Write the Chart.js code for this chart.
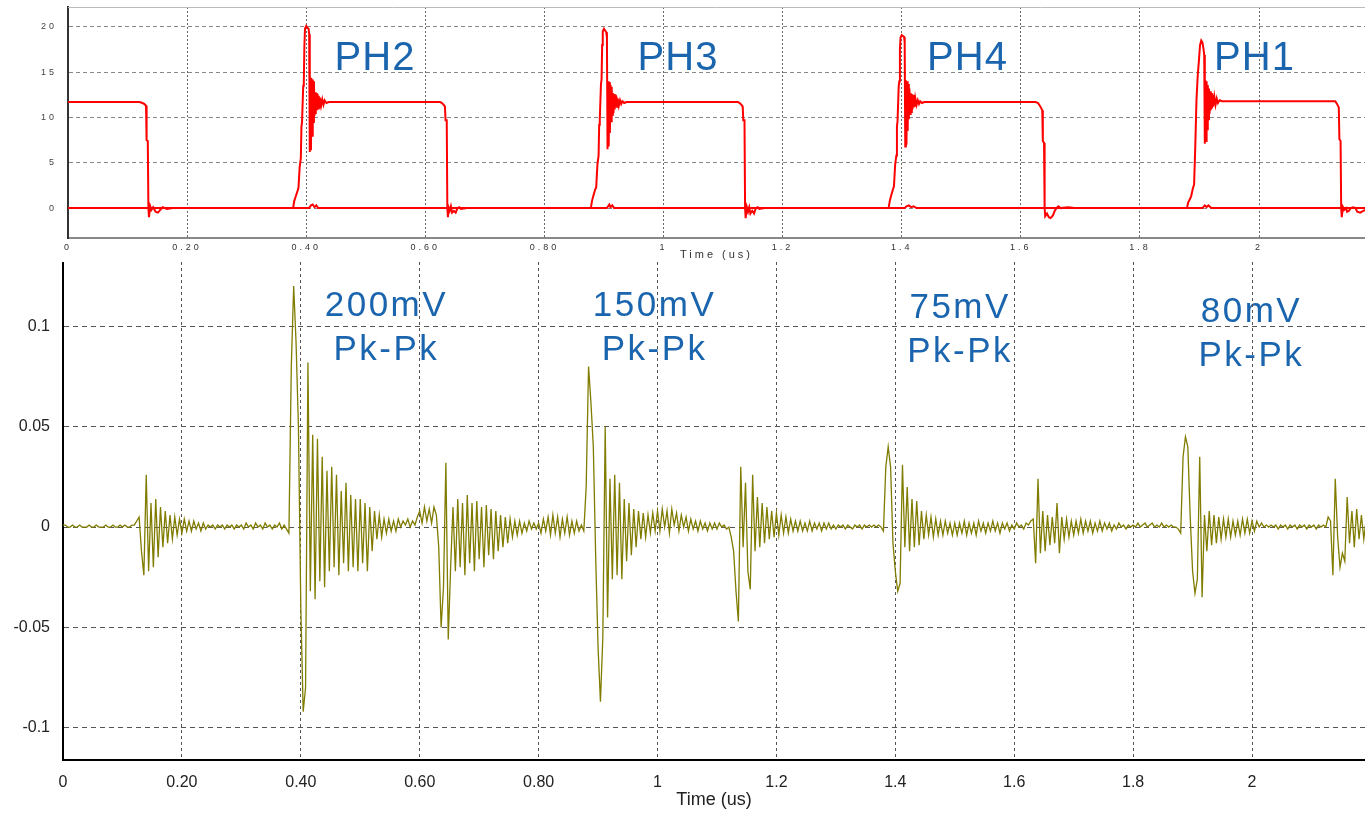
<!DOCTYPE html>
<html>
<head>
<meta charset="utf-8">
<title>Phase switching and output noise</title>
<script src="https://cdn.jsdelivr.net/npm/chart.js@4.4.1/dist/chart.umd.min.js"></script>
<style>
  html, body { margin: 0; padding: 0; background: #fff; }
  #wrap { position: relative; width: 1365px; height: 814px; overflow: hidden; }
  canvas { position: absolute; left: 0; }
  #phaseChart { top: 0; }
  #noiseChart { top: 262px; }
</style>
</head>
<body>
<div id="wrap">
  <canvas id="phaseChart" width="1365" height="262"></canvas>
  <canvas id="noiseChart" width="1365" height="552"></canvas>
</div>
<script>
// ---- tick values / labels ----
const xTickValues = [0, 0.2, 0.4, 0.6, 0.8, 1, 1.2, 1.4, 1.6, 1.8, 2];
const xTickLabels = ['0', '0.20', '0.40', '0.60', '0.80', '1', '1.2', '1.4', '1.6', '1.8', '2'];
const phaseYTicks = [0, 5, 10, 15, 20];
const phaseYLabels = ['0', '5', '10', '15', '20'];
const noiseYTicks = [-0.1, -0.05, 0, 0.05, 0.1];
const noiseYLabels = ['-0.1', '-0.05', '0', '0.05', '0.1'];

// ---- top: switch node, [time us, volts] ----
const swStart = [[0,11.7],[0.120,11.7],[0.125,11.6],[0.128,11.5],[0.131,11.3],[0.132,7.5],[0.134,7.4],[0.135,0],[0.136,-1.0],[0.138,0.2],[0.140,-0.2],[0.143,0.1],[0.147,-0.4],[0.151,-0.5],[0.155,-0.2],[0.159,0.1],[0.166,-0.1],[0.176,0]];
const swPH2 = [[0.378,0],[0.380,0.8],[0.382,1.2],[0.385,1.8],[0.387,2.2],[0.389,4.5],[0.391,5.5],[0.392,9.0],[0.393,9.5],[0.395,13.5],[0.396,14.0],[0.397,18.0],[0.398,19.8],[0.400,20.1],[0.402,19.9],[0.404,19.8],[0.405,19.2],[0.406,6.2],[0.407,14.4],[0.408,6.4],[0.409,14.3],[0.410,8.0],[0.411,14.2],[0.412,9.5],[0.413,14.0],[0.414,10.2],[0.415,12.8],[0.416,10.4],[0.417,12.7],[0.418,10.8],[0.419,12.6],[0.420,11.0],[0.421,12.4],[0.422,11.1],[0.423,12.2],[0.425,11.3],[0.427,12.0],[0.429,11.4],[0.431,11.9],[0.434,11.6],[0.438,11.7],[0.625,11.7],[0.628,11.6],[0.631,11.4],[0.633,11.2],[0.634,9.7],[0.636,9.7],[0.637,0],[0.638,-1.0],[0.639,0.1],[0.641,-0.3],[0.643,0.2],[0.645,-0.5],[0.648,-0.3],[0.651,-0.5],[0.654,0],[0.657,0.1],[0.660,-0.1],[0.670,0]];
const swPH3 = [[0.878,0],[0.880,0.8],[0.882,1.3],[0.885,2.0],[0.887,2.3],[0.889,4.8],[0.891,5.8],[0.892,9.2],[0.893,9.8],[0.895,13.7],[0.896,14.2],[0.897,18.0],[0.898,19.5],[0.900,19.8],[0.902,19.6],[0.904,19.4],[0.905,18.8],[0.906,6.5],[0.907,14.0],[0.908,6.8],[0.909,13.9],[0.910,8.3],[0.911,13.6],[0.912,9.6],[0.913,13.4],[0.914,10.3],[0.915,12.7],[0.916,10.5],[0.917,12.6],[0.918,10.9],[0.919,12.5],[0.920,11.1],[0.921,12.3],[0.922,11.2],[0.923,12.1],[0.925,11.3],[0.927,11.9],[0.929,11.5],[0.931,11.8],[0.934,11.6],[0.938,11.7],[1.125,11.7],[1.128,11.6],[1.131,11.4],[1.133,11.2],[1.134,9.7],[1.136,9.7],[1.137,0],[1.138,-1.1],[1.140,0.1],[1.142,-0.4],[1.144,0.1],[1.146,-0.6],[1.149,-0.3],[1.152,-0.6],[1.155,0],[1.158,0.1],[1.161,-0.1],[1.170,0]];
const swPH4 = [[1.378,0],[1.380,0.8],[1.382,1.3],[1.385,2.0],[1.387,2.4],[1.389,4.8],[1.391,5.8],[1.392,9.0],[1.393,9.6],[1.395,13.5],[1.396,14.0],[1.397,17.5],[1.398,18.8],[1.400,19.1],[1.402,19.0],[1.404,18.9],[1.405,18.3],[1.406,6.8],[1.407,14.1],[1.408,7.0],[1.409,14.0],[1.410,8.5],[1.411,13.7],[1.412,9.8],[1.413,13.2],[1.414,10.4],[1.415,12.7],[1.416,10.6],[1.417,12.6],[1.418,10.9],[1.419,12.5],[1.420,11.1],[1.421,12.3],[1.422,11.2],[1.423,12.1],[1.425,11.4],[1.427,11.9],[1.429,11.5],[1.431,11.8],[1.434,11.6],[1.438,11.7],[1.625,11.7],[1.629,11.6],[1.633,11.2],[1.636,10.8],[1.637,7.4],[1.639,7.2],[1.640,0],[1.641,-0.9],[1.644,-0.6],[1.647,-1.0],[1.650,-1.1],[1.654,-0.8],[1.657,-0.3],[1.660,0],[1.663,0.2],[1.667,0],[1.680,0.1],[1.690,0]];
const swPH1 = [[1.879,0],[1.881,0.6],[1.884,1.0],[1.886,1.3],[1.889,2.2],[1.891,2.6],[1.893,6.8],[1.895,11.9],[1.897,14.5],[1.899,16.2],[1.901,18.0],[1.903,18.5],[1.905,18.3],[1.907,17.5],[1.908,16.9],[1.909,7.1],[1.910,14.1],[1.911,7.4],[1.912,14.0],[1.913,8.7],[1.914,13.6],[1.915,9.8],[1.916,13.2],[1.917,10.4],[1.918,12.9],[1.919,10.8],[1.920,12.7],[1.921,11.0],[1.922,12.5],[1.923,11.2],[1.925,12.3],[1.927,11.4],[1.929,12.1],[1.931,11.6],[1.934,11.9],[1.938,11.8],[2.128,11.8],[2.131,11.5],[2.134,11.1],[2.135,7.6],[2.137,7.4],[2.138,0],[2.139,-1.0],[2.141,0.1],[2.143,-0.2],[2.146,0],[2.148,-0.4],[2.151,-0.3],[2.154,0],[2.158,0.1],[2.162,0],[2.165,-0.4],[2.170,-0.5],[2.175,-0.3],[2.182,-0.1],[2.190,0]];
// second red trace that sits on 0 V
const lowTrace = [[0,0],[0.405,0],[0.408,0.3],[0.411,0.4],[0.414,0.1],[0.417,0.3],[0.420,0],[0.905,0],[0.907,0.2],[0.909,0.4],[0.911,0.1],[0.914,0.3],[0.917,0],[1.405,0],[1.408,0.2],[1.412,0.3],[1.416,0.1],[1.420,0.2],[1.425,0],[1.905,0],[1.909,0.3],[1.912,0.1],[1.915,0.3],[1.920,0],[2.190,0]];

// ---- bottom: output noise in mV, one sample every 4 ns ----
const NOISE_STEP = 0.004;
const noiseMv = [
  1,1,0,0,1,0,0,1,0,0,0,1,0,0,1,0,0,0,1,0,0,1,0,0,1,
  0,1,0,0,1,1,3,5,-12,-24,26,-22,12,-20,14,-15,10,-10,8,-8,6,-6,5,-4,4,
  -3,4,-2,3,-2,3,-1,2,-2,2,-1,1,0,1,-1,1,0,1,-1,1,0,1,-1,1,0,
  1,-1,2,0,1,-1,2,0,1,-1,2,0,1,-1,1,0,2,-1,1,-1,-3,80,120,92,50,
  -40,-92,-80,82,-32,46,-36,44,-27,35,-30,28,-22,30,-20,26,-24,18,-18,22,-22,16,-20,14,-22,
  14,-18,12,-22,10,-12,8,-6,6,-5,4,-3,4,-2,3,-2,4,0,3,1,4,0,3,1,5,
  8,2,10,3,9,2,10,6,-10,-50,-30,32,-56,-20,10,-22,14,-20,12,-24,16,-18,12,-22,13,
  -16,10,-20,11,-14,9,-16,8,-12,6,-10,5,-8,4,-5,3,-4,3,-3,2,-2,3,-1,2,-1,
  2,-3,4,-2,5,-4,6,-3,5,-5,4,-3,5,-4,3,-3,3,-2,1,-2,20,80,62,40,-15,
  -60,-87,-55,50,-45,24,-26,26,-24,22,-26,14,-17,12,-14,9,-10,8,-6,7,-5,6,-3,7,-2,
  8,-2,9,0,8,-3,9,1,7,-2,6,0,5,-2,4,-1,3,-2,3,-1,2,-2,2,-1,2,
  -1,2,0,1,-1,0,-5,-12,-32,-47,30,-10,22,-22,-31,26,-12,15,-10,12,-8,10,-6,8,-5,
  7,-4,6,-3,5,-3,4,-2,3,-2,3,-2,2,-2,3,-2,2,-1,2,-2,2,-1,2,-1,1,
  -1,1,0,1,-1,1,0,-1,1,0,1,-1,1,0,1,0,1,0,1,0,-2,30,40,30,-8,
  -22,-32,-28,31,-10,20,-12,14,-10,13,-9,8,-6,6,-4,5,-5,4,-4,3,-4,3,-3,2,-4,
  2,-4,2,-3,3,-4,2,-3,2,-4,3,-2,2,-3,2,-2,3,-2,2,-3,2,-1,2,-2,1,
  -1,2,0,1,-1,2,1,3,4,-18,24,-13,8,-12,6,-9,5,-8,12,-13,5,-6,4,-5,3,
  -4,3,-3,4,-3,3,-2,3,-3,2,-2,3,-2,2,-1,2,-2,1,-1,2,0,1,-1,1,0,
  1,0,2,0,1,2,0,1,2,0,1,0,2,0,1,0,1,0,0,-1,-3,35,45,40,5,
  -22,-33,-26,35,-35,6,-12,8,-9,6,-8,5,-6,4,-5,4,-5,3,-4,3,-4,4,-3,4,-3,
  3,-2,3,0,2,0,1,0,1,0,1,-1,1,0,1,-1,1,0,1,-1,1,0,1,-1,1,
  0,1,-1,1,0,1,0,5,3,-24,24,-5,-20,-13,-17,15,-8,8,-10,9,-6,6,-6,4,-3
];

// ---- annotation texts ----
const phaseNames = ['PH2', 'PH3', 'PH4', 'PH1'];
const ripple = ['200mV', '150mV', '75mV', '80mV'];

const FONT = "'Liberation Sans', Arial, sans-serif";
const NOTE_BLUE = '#1a65ae';

function toPoints(pairs) {
  return pairs.map(p => ({ x: p[0], y: p[1] }));
}

function fixedTicks(values) {
  return scale => { scale.ticks = values.map(v => ({ value: v })); };
}

// pin the plot box: no extra room for overhanging tick labels
function fixWidth(w) {
  return s => { s.width = w; s.paddingTop = 0; s.paddingBottom = 0; };
}
function fixHeight(h) {
  return s => { s.height = h; s.paddingLeft = 0; s.paddingRight = 0; };
}

// text anchors in data units (time us, value)
const phaseAnchors = [[0.5155, 15.25], [1.0244, 15.25], [1.5105, 15.25], [1.9924, 15.25]];
const rippleAnchors = [[0.544, 0.105], [0.995, 0.105], [1.509, 0.104], [1.999, 0.102]];

const phaseNotes = {
  id: 'phaseNotes',
  beforeDraw(chart) {
    const { ctx, scales: { x, y } } = chart;
    ctx.save();
    ctx.fillStyle = NOTE_BLUE;
    ctx.font = '40px ' + FONT;
    ctx.letterSpacing = '1px';
    ctx.textAlign = 'center';
    ctx.textBaseline = 'alphabetic';
    phaseNames.forEach((name, i) => {
      ctx.fillText(name, x.getPixelForValue(phaseAnchors[i][0]), y.getPixelForValue(phaseAnchors[i][1]));
    });
    ctx.restore();
    // the scope software draws its small labels widely spaced
    ctx.letterSpacing = '3px';
  }
};

const topFrame = {
  id: 'topFrame',
  afterDatasetsDraw(chart) {
    const { ctx, chartArea } = chart;
    ctx.save();
    ctx.strokeStyle = '#bbbbbb';
    ctx.lineWidth = 1;
    ctx.beginPath();
    ctx.moveTo(chartArea.left, chartArea.top + 0.5);
    ctx.lineTo(chartArea.right, chartArea.top + 0.5);
    ctx.stroke();
    ctx.restore();
  }
};

const rippleNotes = {
  id: 'rippleNotes',
  beforeDraw(chart) {
    const { ctx, scales: { x, y } } = chart;
    ctx.save();
    ctx.fillStyle = NOTE_BLUE;
    ctx.font = '35px ' + FONT;
    ctx.letterSpacing = '2.5px';
    ctx.textAlign = 'center';
    ctx.textBaseline = 'alphabetic';
    ripple.forEach((txt, i) => {
      const px = x.getPixelForValue(rippleAnchors[i][0]);
      const py = y.getPixelForValue(rippleAnchors[i][1]);
      ctx.fillText(txt, px, py);
      ctx.fillText('Pk-Pk', px, py + 44);
    });
    ctx.restore();
  }
};

const common = {
  responsive: false,
  maintainAspectRatio: false,
  animation: false,
  devicePixelRatio: 1,
  events: [],
  elements: { point: { radius: 0 }, line: { tension: 0 } },
  plugins: { legend: { display: false }, tooltip: { enabled: false } }
};

new Chart(document.getElementById('phaseChart'), {
  type: 'line',
  data: {
    datasets: [
      { data: toPoints(lowTrace), borderColor: '#ff0000', borderWidth: 2 },
      { data: toPoints([...swStart, ...swPH2, ...swPH3, ...swPH4, ...swPH1]), borderColor: '#ff0000', borderWidth: 2 }
    ]
  },
  options: {
    ...common,
    layout: { padding: { top: 7, right: 0, left: 0, bottom: 0 } },
    scales: {
      x: {
        type: 'linear', min: 0, max: 2.178,
        afterBuildTicks: fixedTicks(xTickValues),
        afterFit: fixHeight(24),
        grid: { color: '#666', lineWidth: 1, drawTicks: false },
        border: { display: true, color: '#888', width: 2, dash: [2, 2] },
        ticks: {
          autoSkip: false, maxRotation: 0, padding: 4, color: '#333',
          font: { family: FONT, size: 9 },
          callback: (v, i) => xTickLabels[i]
        },
        title: { display: true, text: 'Time (us)', color: '#333', font: { family: FONT, size: 11 }, padding: 0 }
      },
      y: {
        type: 'linear', min: -3.3, max: 22.2,
        afterBuildTicks: fixedTicks(phaseYTicks),
        afterFit: fixWidth(68),
        grid: { color: '#888', lineWidth: 1, drawTicks: false },
        border: { display: true, color: '#333', width: 2, dash: [4, 3] },
        ticks: {
          padding: 11, color: '#444',
          font: { family: FONT, size: 9 },
          callback: (v, i) => phaseYLabels[i]
        }
      }
    }
  },
  plugins: [phaseNotes, topFrame]
});

new Chart(document.getElementById('noiseChart'), {
  type: 'line',
  data: {
    datasets: [{
      data: noiseMv.map((mv, i) => ({ x: +(i * NOISE_STEP).toFixed(3), y: mv / 1000 })),
      borderColor: 'rgb(128,124,0)',
      borderWidth: 1.3
    }]
  },
  options: {
    ...common,
    layout: { padding: 0 },
    scales: {
      x: {
        type: 'linear', min: 0, max: 2.19,
        afterBuildTicks: fixedTicks(xTickValues),
        afterFit: fixHeight(54),
        grid: { color: '#555', lineWidth: 1, drawTicks: false },
        border: { display: true, color: '#000', width: 2, dash: [3, 3] },
        ticks: {
          autoSkip: false, maxRotation: 0, padding: 13, color: '#222',
          font: { family: FONT, size: 16 },
          callback: (v, i) => xTickLabels[i]
        },
        title: { display: true, text: 'Time (us)', color: '#222', font: { family: FONT, size: 18 }, padding: { top: 0, bottom: 3 } }
      },
      y: {
        type: 'linear', min: -0.116, max: 0.132,
        afterBuildTicks: fixedTicks(noiseYTicks),
        afterFit: fixWidth(63),
        grid: { color: '#555', lineWidth: 1, drawTicks: false },
        border: { display: true, color: '#000', width: 2, dash: [5, 4] },
        ticks: {
          padding: 13, color: '#222',
          font: { family: FONT, size: 16 },
          callback: (v, i) => noiseYLabels[i]
        }
      }
    }
  },
  plugins: [rippleNotes]
});
</script>
</body>
</html>
